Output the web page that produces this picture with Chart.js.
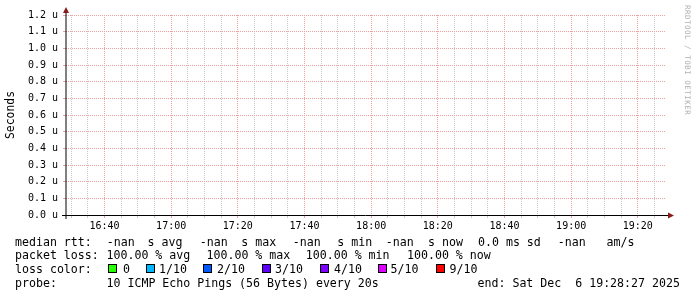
<!DOCTYPE html>
<html>
<head>
<meta charset="utf-8">
<script src="https://cdn.jsdelivr.net/npm/chart.js@4/dist/chart.umd.min.js"></script>
<style>
  html, body { margin: 0; padding: 0; background: #fff; }
  #wrap { position: relative; width: 697px; height: 297px; overflow: hidden; }
  #c { position: absolute; left: 0; top: 0; }
  .lg { position: absolute; font-family: "DejaVu Sans Mono", monospace; font-size: 11.6px; line-height: 14px; white-space: pre; color: #000; }
  .box { position: absolute; width: 7px; height: 7px; border: 1px solid #000; }
  #wm { position: absolute; left: 683px; top: 5px; font-family: "DejaVu Sans Mono", monospace; font-size: 7.5px; letter-spacing: 0.5px; color: #b0b0b0; writing-mode: vertical-rl; white-space: pre; }
</style>
</head>
<body>
<div id="wrap">
  <canvas id="c" width="697" height="297"></canvas>
  <div id="wm">RRDTOOL / TOBI OETIKER</div>
</div>
<script>
// ---- data ----
const xTickLabels = ['16:40', '17:00', '17:20', '17:40', '18:00', '18:20', '18:40', '19:00', '19:20'];
const yTickLabels = ['0.0 u', '0.1 u', '0.2 u', '0.3 u', '0.4 u', '0.5 u', '0.6 u', '0.7 u', '0.8 u', '0.9 u', '1.0 u', '1.1 u', '1.2 u'];
const yTitle = 'Seconds';
// sample times (minutes of day) and median RTT values in microseconds: all -nan (no data)
const sampleTimes = [990, 1020, 1050, 1080, 1110, 1140, 1165];
const medianRtt = [null, null, null, null, null, null, null];
const lossLabels = ['0', '1/10', '2/10', '3/10', '4/10', '5/10', '9/10'];
const lossColors = ['#26ff00', '#00b8ff', '#0059ff', '#5e00ff', '#7e00ff', '#dd00ff', '#ff0000'];
const rttLine = ['median rtt:', '-nan', 's avg', '-nan', 's max', '-nan', 's min', '-nan', 's now', '0.0 ms sd', '-nan', 'am/s'];
const lossLine = ['packet loss:', '100.00 % avg', '100.00 % max', '100.00 % min', '100.00 % now'];
const probeLine = ['probe:', '10 ICMP Echo Pings (56 Bytes) every 20s', 'end: Sat Dec  6 19:28:27 2025'];
const lossTitle = 'loss color:';

// time range: 3 hours ending 19:28:27
const xEnd = 19 * 60 + 28 + 27 / 60;
const xStart = xEnd - 180;

// ---- legend layout ----
const wrap = document.getElementById('wrap');
function addText(t, x, cy) {
  const d = document.createElement('div');
  d.className = 'lg';
  d.textContent = t;
  d.style.left = x + 'px';
  d.style.top = (cy - 7) + 'px';
  wrap.appendChild(d);
}
const rttX = [15, 106.8, 147.5, 199.8, 241.3, 292.8, 337.3, 385.8, 428, 478, 557.8, 606.5];
rttLine.forEach((t, i) => addText(t, rttX[i], 241.5));
const lossX = [15, 106.5, 206.5, 305.8, 407];
lossLine.forEach((t, i) => addText(t, lossX[i], 255));
addText(lossTitle, 15, 269);
const boxX = [108, 146, 203, 261.5, 320, 377.5, 436];
const boxLabelX = [123, 159, 217, 275, 334, 390.5, 449.5];
lossLabels.forEach((t, i) => {
  const b = document.createElement('div');
  b.className = 'box';
  b.style.left = boxX[i] + 'px';
  b.style.top = '264px';
  b.style.background = lossColors[i];
  wrap.appendChild(b);
  addText(t, boxLabelX[i], 269);
});
const probeX = [15, 106.5, 477.5];
probeLine.forEach((t, i) => addText(t, probeX[i], 282.7));

// ---- chart ----
const MAJOR = 'rgb(236,160,160)';
const MINOR = 'rgb(200,200,200)';

const axisPlugin = {
  id: 'axisPlugin',
  afterDraw(chart) {
    const ctx = chart.ctx;
    const a = chart.chartArea;
    ctx.save();
    ctx.setLineDash([]);
    ctx.strokeStyle = '#000';
    ctx.lineWidth = 1;
    ctx.beginPath();
    ctx.moveTo(a.left, a.bottom + 4);
    ctx.lineTo(a.left, a.top - 3);
    ctx.stroke();
    ctx.beginPath();
    ctx.moveTo(a.left - 4, a.bottom + 0.5);
    ctx.lineTo(a.right + 3, a.bottom + 0.5);
    ctx.stroke();
    ctx.fillStyle = '#8b1a1a';
    ctx.beginPath();
    ctx.moveTo(a.left, a.top - 8);
    ctx.lineTo(a.left - 3, a.top - 2);
    ctx.lineTo(a.left + 3, a.top - 2);
    ctx.closePath();
    ctx.fill();
    ctx.beginPath();
    ctx.moveTo(a.right + 8, a.bottom + 0.5);
    ctx.lineTo(a.right + 2, a.bottom - 2.5);
    ctx.lineTo(a.right + 2, a.bottom + 3.5);
    ctx.closePath();
    ctx.fill();
    ctx.restore();
  }
};

new Chart(document.getElementById('c'), {
  type: 'line',
  data: {
    datasets: [{
      label: 'median rtt',
      data: sampleTimes.map((t, i) => ({ x: t, y: medianRtt[i] })),
      borderColor: '#00ff00',
      pointRadius: 0,
      spanGaps: false
    }]
  },
  options: {
    responsive: false,
    animation: false,
    devicePixelRatio: 1,
    layout: { padding: { left: 0, top: 15, right: 31, bottom: 52 } },
    plugins: { legend: { display: false }, tooltip: { enabled: false } },
    scales: {
      x: {
        type: 'linear',
        min: xStart,
        max: xEnd,
        afterBuildTicks: (scale) => {
          const t = [];
          for (let m = Math.ceil(xStart / 5) * 5; m <= xEnd; m += 5) t.push({ value: m });
          scale.ticks = t;
        },
        afterFit: (scale) => { scale.height = 30; },
        border: { display: false, dash: [1, 1] },
        grid: {
          color: (c) => (c.tick && c.tick.value % 20 === 0) ? MAJOR : MINOR,
          tickBorderDash: [],
          drawTicks: true,
          tickLength: 3,
          lineWidth: 1
        },
        ticks: {
          autoSkip: false,
          maxRotation: 0,
          padding: 2,
          color: '#000',
          font: { family: 'DejaVu Sans Mono', size: 10 },
          callback: (v) => {
            if (Math.round(v) % 20 !== 0) return '';
            const idx = Math.round((v - 1000) / 20);
            return xTickLabels[idx] !== undefined ? xTickLabels[idx] : '';
          }
        }
      },
      y: {
        type: 'linear',
        min: 0,
        max: 1.2,
        afterFit: (scale) => { scale.width = 66; },
        border: { display: false, dash: [1, 1] },
        grid: {
          color: MAJOR,
          tickBorderDash: [],
          tickLength: 3,
          lineWidth: 1
        },
        ticks: {
          stepSize: 0.1,
          padding: 5,
          color: '#000',
          font: { family: 'DejaVu Sans Mono', size: 10 },
          callback: (v) => yTickLabels[Math.round(v * 10)]
        },
        title: {
          display: true,
          text: yTitle,
          color: '#000',
          font: { family: 'DejaVu Sans Mono', size: 11.4 },
          padding: { top: 4, bottom: 0 }
        }
      }
    }
  },
  plugins: [axisPlugin]
});
</script>
</body>
</html>
